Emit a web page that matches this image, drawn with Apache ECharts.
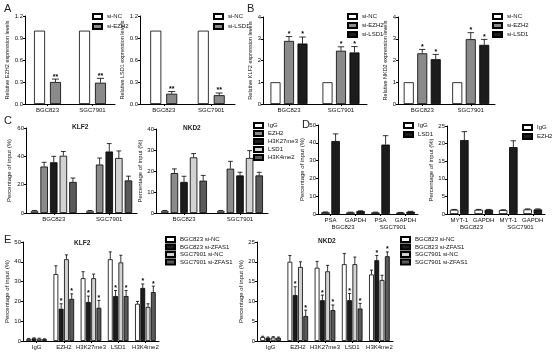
<!DOCTYPE html>
<html>
<head>
<meta charset="utf-8">
<script src="https://cdn.jsdelivr.net/npm/echarts@6/dist/echarts.min.js"></script>
<style>html,body{margin:0;padding:0;background:#fff}#main{width:554px;height:352px}</style>
</head>
<body>
<div id="main"></div>
<script>
// ---- data ----
var cells = ['BGC823', 'SGC7901'];

// A: knockdown efficiency
var aEzh2NC = [1.0, 1.0];
var aEzh2KD = [0.30, 0.29];
var aEzh2KDErr = [0.04, 0.06];
var aEzh2Stars = [2, 2];
var aLsd1NC = [1.0, 1.0];
var aLsd1KD = [0.14, 0.12];
var aLsd1KDErr = [0.03, 0.03];
var aLsd1Stars = [2, 2];

// B: KLF2 / NKD2 after knockdown
var bKlf2NC = [1, 1];
var bKlf2Ezh2 = [2.9, 2.45];
var bKlf2Ezh2Err = [0.2, 0.18];
var bKlf2Lsd1 = [2.78, 2.37];
var bKlf2Lsd1Err = [0.3, 0.27];
var bNkd2NC = [1, 1];
var bNkd2Ezh2 = [2.33, 2.98];
var bNkd2Ezh2Err = [0.18, 0.3];
var bNkd2Lsd1 = [2.06, 2.72];
var bNkd2Lsd1Err = [0.22, 0.25];
var bStars = [1, 1];

// C: ChIP at KLF2 / NKD2 promoters
var cKlf2IgG = [1.5, 1.5],  cKlf2IgGErr = [0.3, 0.3];
var cKlf2Ezh2 = [32.8, 34.2], cKlf2Ezh2Err = [3.0, 4.6];
var cKlf2H3k27 = [35.8, 43.4], cKlf2H3k27Err = [4.2, 5.6];
var cKlf2Lsd1 = [40.4, 38.8], cKlf2Lsd1Err = [3.0, 5.0];
var cKlf2H3k4 = [21.9, 23.0], cKlf2H3k4Err = [2.8, 3.0];
var cNkd2IgG = [1.0, 1.0],  cNkd2IgGErr = [0.2, 0.2];
var cNkd2Ezh2 = [19.0, 21.1], cNkd2Ezh2Err = [2.0, 3.5];
var cNkd2H3k27 = [14.8, 17.9], cNkd2H3k27Err = [2.7, 1.5];
var cNkd2Lsd1 = [26.5, 26.2], cNkd2Lsd1Err = [1.8, 3.5];
var cNkd2H3k4 = [15.4, 17.9], cNkd2H3k4Err = [2.5, 1.5];

// D: ChIP controls
var dLsd1Genes = ['PSA', 'GAPDH', 'PSA', 'GAPDH'];
var dLsd1IgG = [1.0, 0.9, 0.9, 0.8];
var dLsd1IgGErr = [0.15, 0.15, 0.15, 0.1];
var dLsd1Ab = [41.0, 1.6, 39.0, 1.3];
var dLsd1AbErr = [4.0, 0.2, 5.0, 0.2];
var dEzh2Genes = ['MYT-1', 'GAPDH', 'MYT-1', 'GAPDH'];
var dEzh2IgG = [1.2, 1.2, 1.1, 1.3];
var dEzh2IgGErr = [0.1, 0.1, 0.1, 0.15];
var dEzh2Ab = [21.0, 1.2, 19.0, 1.3];
var dEzh2AbErr = [2.4, 0.1, 1.8, 0.15];

// E: ChIP after ZFAS1 knockdown
var marks = ['IgG', 'EZH2', 'H3K27me3', 'LSD1', 'H3K4me2'];
var eKlf2BgcNC = [1.0, 33.8, 31.7, 41.3, 18.8],  eKlf2BgcNCErr = [0.3, 4.2, 3.3, 3.7, 1.2];
var eKlf2BgcSi = [1.3, 16.3, 19.7, 22.7, 26.8],  eKlf2BgcSiErr = [0.3, 2.5, 3.0, 2.8, 2.0];
var eKlf2SgcNC = [1.1, 41.3, 31.7, 39.7, 17.2],  eKlf2SgcNCErr = [0.3, 2.2, 2.1, 3.6, 1.6];
var eKlf2SgcSi = [0.9, 21.3, 16.8, 22.7, 24.7],  eKlf2SgcSiErr = [0.2, 2.5, 3.7, 2.8, 3.0];
var eNkd2BgcNC = [1.0, 20.0, 18.5, 19.4, 16.8],  eNkd2BgcNCErr = [0.2, 1.6, 1.6, 2.7, 1.1];
var eNkd2BgcSi = [0.8, 11.6, 10.3, 10.3, 20.4],  eNkd2BgcSiErr = [0.2, 2.1, 1.3, 1.7, 1.2];
var eNkd2SgcNC = [0.9, 18.7, 17.6, 19.4, 15.4],  eNkd2SgcNCErr = [0.2, 1.3, 1.5, 1.8, 1.2];
var eNkd2SgcSi = [0.8, 6.3, 7.8, 8.2, 21.4],     eNkd2SgcSiErr = [0.2, 1.5, 1.3, 1.3, 1.1];
var eStars = [0, 1, 1, 1, 1];

// ---- building the figure ----
var FONT = '"Liberation Sans", Arial, sans-serif';
var WHITE = '#ffffff', GRAY = '#8a8a8a', BLACK = '#1c1c1c', LIGHT = '#d2d2d2', DARK = '#5a5a5a';

var grids = [], xAxes = [], yAxes = [], series = [], legends = [], titles = [];

function addChart(c) {
    var gi = grids.length;
    grids.push({ left: c.left, top: c.top, width: c.width, height: c.height });

    xAxes.push({
        type: 'category', gridIndex: gi, data: c.cats,
        axisLine: { lineStyle: { color: '#000', width: 1 } },
        axisTick: { show: true, alignWithLabel: true, length: 2, lineStyle: { color: '#000' } },
        axisLabel: { fontSize: 6, margin: 3, color: '#111', fontFamily: FONT, interval: 0 }
    });
    var xi = xAxes.length - 1;
    if (c.groups) {
        xAxes.push({
            type: 'category', gridIndex: gi, data: c.groups, position: 'bottom', offset: 7,
            axisLine: { show: false }, axisTick: { show: false },
            axisLabel: { fontSize: 6, margin: 3, color: '#111', fontFamily: FONT }
        });
    }

    yAxes.push({
        type: 'value', gridIndex: gi, min: 0, max: c.max, interval: c.step,
        name: c.yName, nameLocation: 'middle', nameRotate: 90, nameGap: c.nameGap,
        nameTextStyle: { fontSize: c.nameSize || 5.5, fontFamily: FONT, color: '#111' },
        axisLine: { show: true, lineStyle: { color: '#000' } },
        axisTick: { show: true, length: 2, lineStyle: { color: '#000' } },
        splitLine: { show: false },
        axisLabel: {
            fontSize: 6, margin: 2, color: '#111', fontFamily: FONT,
            formatter: function (v) { return c.dec ? v.toFixed(c.dec) : String(v); }
        }
    });
    var yi = yAxes.length - 1;

    var n = c.series.length, bw = c.barWidth, gap = c.gap;
    var names = [], errData = [];
    c.series.forEach(function (s, j) {
        var nm = c.id + '|' + s.name;
        names.push(nm);
        series.push({
            type: 'bar', name: nm, xAxisIndex: xi, yAxisIndex: yi, data: s.values,
            barWidth: bw, barGap: (gap * 100) + '%', silent: true, animation: false,
            itemStyle: { color: s.color, borderColor: '#000', borderWidth: 0.8 }
        });
        s.values.forEach(function (v, i) {
            errData.push([i, v, s.errs ? s.errs[i] : 0, j, s.stars ? s.stars[i] : 0]);
        });
    });

    // error bars and asterisks
    series.push({
        type: 'custom', name: c.id + '|err', xAxisIndex: xi, yAxisIndex: yi,
        data: errData, z: 5, clip: false, silent: true, animation: false,
        encode: { x: 0, y: 1 },
        renderItem: function (params, api) {
            var i = api.value(0), v = api.value(1), e = api.value(2), j = api.value(3), st = api.value(4);
            var off = (j - (n - 1) / 2) * bw * (1 + gap);
            var p0 = api.coord([i, v]), p1 = api.coord([i, v + e]);
            var x = p0[0] + off, cw = bw * 0.32;
            var kids = [];
            if (e > 0) {
                kids.push({ type: 'line', shape: { x1: x, y1: p0[1], x2: x, y2: p1[1] }, style: { stroke: '#000', lineWidth: 0.8 } });
                kids.push({ type: 'line', shape: { x1: x - cw, y1: p1[1], x2: x + cw, y2: p1[1] }, style: { stroke: '#000', lineWidth: 0.8 } });
            }
            if (st > 0) {
                kids.push({
                    type: 'text', x: x, y: p1[1] + 1,
                    style: { text: new Array(st + 1).join('*'), font: 'bold 7px ' + FONT, fill: '#000', align: 'center', verticalAlign: 'bottom' }
                });
            }
            return { type: 'group', children: kids };
        }
    });

    if (c.legend) {
        legends.push({
            data: names, left: c.legend[0], top: c.legend[1], orient: 'vertical',
            itemWidth: 9, itemHeight: 5, itemGap: c.legendGap, icon: 'rect', padding: 0,
            selectedMode: false,
            textStyle: { fontSize: 6, fontFamily: FONT, color: '#111', lineHeight: 7 },
            formatter: function (nm) { return nm.split('|')[1]; }
        });
    }
    if (c.title) {
        titles.push({ text: c.title, left: c.titlePos[0], top: c.titlePos[1], padding: 0,
            textStyle: { fontSize: 6.5, fontWeight: 'bold', fontFamily: FONT, color: '#222' } });
    }
}

// panel A
addChart({ id: 'a1', left: 25, top: 16, width: 90, height: 88, cats: cells, max: 1.2, step: 0.3, dec: 1,
    yName: 'Relative EZH2 expression levels', nameGap: 12, barWidth: 11, gap: 0.45,
    legend: [92, 13], legendGap: 3,
    series: [
        { name: 'si-NC', values: aEzh2NC, color: WHITE },
        { name: 'si-EZH2', values: aEzh2KD, errs: aEzh2KDErr, stars: aEzh2Stars, color: GRAY }
    ] });
addChart({ id: 'a2', left: 140, top: 16, width: 95, height: 88, cats: cells, max: 1.2, step: 0.3, dec: 1,
    yName: 'Relative LSD1 expression levels', nameGap: 11, barWidth: 11, gap: 0.45,
    legend: [213, 13], legendGap: 3,
    series: [
        { name: 'si-NC', values: aLsd1NC, color: WHITE },
        { name: 'si-LSD1', values: aLsd1KD, errs: aLsd1KDErr, stars: aLsd1Stars, color: GRAY }
    ] });

// panel B
addChart({ id: 'b1', left: 263, top: 17, width: 104, height: 87, cats: cells, max: 4, step: 1,
    yName: 'Relative KLF2 expression levels', nameGap: 8, barWidth: 10, gap: 0.35,
    legend: [347, 13], legendGap: 2,
    series: [
        { name: 'si-NC', values: bKlf2NC, color: WHITE },
        { name: 'si-EZH2', values: bKlf2Ezh2, errs: bKlf2Ezh2Err, stars: bStars, color: GRAY },
        { name: 'si-LSD1', values: bKlf2Lsd1, errs: bKlf2Lsd1Err, stars: bStars, color: BLACK }
    ] });
addChart({ id: 'b2', left: 398, top: 17, width: 97, height: 87, cats: cells, max: 4, step: 1,
    yName: 'Relative NKD2 expression levels', nameGap: 8, barWidth: 10, gap: 0.35,
    legend: [492, 13], legendGap: 2,
    series: [
        { name: 'si-NC', values: bNkd2NC, color: WHITE },
        { name: 'si-EZH2', values: bNkd2Ezh2, errs: bNkd2Ezh2Err, stars: bStars, color: GRAY },
        { name: 'si-LSD1', values: bNkd2Lsd1, errs: bNkd2Lsd1Err, stars: bStars, color: BLACK }
    ] });

// panel C
addChart({ id: 'c1', left: 26, top: 128, width: 111, height: 85, cats: cells, max: 60, step: 20,
    yName: 'Percentage of input (%)', nameGap: 14, nameSize: 6, barWidth: 7.5, gap: 0.28,
    title: 'KLF2', titlePos: [72, 124],
    series: [
        { name: 'IgG', values: cKlf2IgG, errs: cKlf2IgGErr, color: WHITE },
        { name: 'EZH2', values: cKlf2Ezh2, errs: cKlf2Ezh2Err, color: GRAY },
        { name: 'H3K27me3', values: cKlf2H3k27, errs: cKlf2H3k27Err, color: BLACK },
        { name: 'LSD1', values: cKlf2Lsd1, errs: cKlf2Lsd1Err, color: LIGHT },
        { name: 'H3K4me2', values: cKlf2H3k4, errs: cKlf2H3k4Err, color: DARK }
    ] });
addChart({ id: 'c2', left: 156, top: 129, width: 112, height: 84, cats: cells, max: 40, step: 10,
    yName: 'Percentage of input (%)', nameGap: 12, nameSize: 6, barWidth: 7.5, gap: 0.28,
    title: 'NKD2', titlePos: [183, 125], legend: [253, 122], legendGap: 1,
    series: [
        { name: 'IgG', values: cNkd2IgG, errs: cNkd2IgGErr, color: WHITE },
        { name: 'EZH2', values: cNkd2Ezh2, errs: cNkd2Ezh2Err, color: GRAY },
        { name: 'H3K27me3', values: cNkd2H3k27, errs: cNkd2H3k27Err, color: BLACK },
        { name: 'LSD1', values: cNkd2Lsd1, errs: cNkd2Lsd1Err, color: LIGHT },
        { name: 'H3K4me2', values: cNkd2H3k4, errs: cNkd2H3k4Err, color: DARK }
    ] });

// panel D
addChart({ id: 'd1', left: 318, top: 125, width: 100, height: 89, cats: dLsd1Genes, groups: cells,
    max: 50, step: 10, yName: 'Percentage of input (%)', nameGap: 11, nameSize: 6, barWidth: 8.5, gap: 0.2,
    legend: [403, 122], legendGap: 2,
    series: [
        { name: 'IgG', values: dLsd1IgG, errs: dLsd1IgGErr, color: WHITE },
        { name: 'LSD1', values: dLsd1Ab, errs: dLsd1AbErr, color: BLACK }
    ] });
addChart({ id: 'd2', left: 447, top: 126, width: 98, height: 88, cats: dEzh2Genes, groups: cells,
    max: 25, step: 5, yName: 'Percentage of input (%)', nameGap: 12, nameSize: 6, barWidth: 8.5, gap: 0.2,
    legend: [522, 124], legendGap: 2,
    series: [
        { name: 'IgG', values: dEzh2IgG, errs: dEzh2IgGErr, color: WHITE },
        { name: 'EZH2', values: dEzh2Ab, errs: dEzh2AbErr, color: BLACK }
    ] });

// panel E
addChart({ id: 'e1', left: 23, top: 242, width: 136, height: 99, cats: marks, max: 50, step: 10,
    yName: 'Percentage of input (%)', nameGap: 10, nameSize: 6, barWidth: 4.8, gap: 0.1,
    title: 'KLF2', titlePos: [74, 240], legend: [165, 236], legendGap: 0.5,
    series: [
        { name: 'BGC823 si-NC', values: eKlf2BgcNC, errs: eKlf2BgcNCErr, color: WHITE },
        { name: 'BGC823 si-ZFAS1', values: eKlf2BgcSi, errs: eKlf2BgcSiErr, stars: eStars, color: BLACK },
        { name: 'SGC7901 si-NC', values: eKlf2SgcNC, errs: eKlf2SgcNCErr, color: LIGHT },
        { name: 'SGC7901 si-ZFAS1', values: eKlf2SgcSi, errs: eKlf2SgcSiErr, stars: eStars, color: DARK }
    ] });
addChart({ id: 'e2', left: 257, top: 242, width: 136, height: 99, cats: marks, max: 25, step: 5,
    yName: 'Percentage of input (%)', nameGap: 11, nameSize: 6, barWidth: 4.8, gap: 0.1,
    title: 'NKD2', titlePos: [318, 238], legend: [400, 236], legendGap: 0.5,
    series: [
        { name: 'BGC823 si-NC', values: eNkd2BgcNC, errs: eNkd2BgcNCErr, color: WHITE },
        { name: 'BGC823 si-ZFAS1', values: eNkd2BgcSi, errs: eNkd2BgcSiErr, stars: eStars, color: BLACK },
        { name: 'SGC7901 si-NC', values: eNkd2SgcNC, errs: eNkd2SgcNCErr, color: LIGHT },
        { name: 'SGC7901 si-ZFAS1', values: eNkd2SgcSi, errs: eNkd2SgcSiErr, stars: eStars, color: DARK }
    ] });

// panel letters
[['A', 4, 3], ['B', 247, 3], ['C', 4, 115], ['D', 302, 119], ['E', 4, 234]].forEach(function (p) {
    titles.push({ text: p[0], left: p[1], top: p[2], padding: 0,
        textStyle: { fontSize: 11, fontWeight: 'normal', fontFamily: FONT, color: '#222' } });
});

var myChart = echarts.init(document.getElementById('main'));
myChart.setOption({
    backgroundColor: '#ffffff',
    animation: false,
    title: titles,
    legend: legends,
    grid: grids,
    xAxis: xAxes,
    yAxis: yAxes,
    series: series
});
</script>
</body>
</html>
